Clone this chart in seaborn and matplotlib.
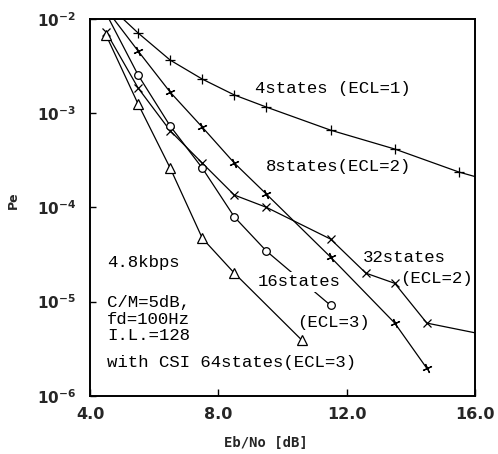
import numpy as np
import pandas as pd
import matplotlib
matplotlib.use('Agg')
import matplotlib.pyplot as plt
import seaborn as sns

# ---------------- data ----------------
ebno_4 = [4.5, 5.5, 6.5, 7.5, 8.5, 9.5, 11.5, 13.5, 15.5, 16.5]
pe_4 = [1.48e-2, 7.1e-3, 3.66e-3, 2.30e-3, 1.56e-3, 1.16e-3, 6.6e-4, 4.16e-4, 2.37e-4, 1.9e-4]

ebno_8 = [4.5, 5.5, 6.5, 7.5, 8.5, 9.5, 11.5, 13.5, 14.5]
pe_8 = [1.28e-2, 4.57e-3, 1.67e-3, 7.1e-4, 2.95e-4, 1.38e-4, 2.96e-5, 5.9e-6, 1.95e-6]

ebno_32 = [4.5, 5.5, 6.5, 7.5, 8.5, 9.5, 11.5, 12.6, 13.5, 14.5, 16.5]
pe_32 = [7.3e-3, 1.85e-3, 6.5e-4, 2.95e-4, 1.35e-4, 1.0e-4, 4.6e-5, 2.0e-5, 1.56e-5, 5.9e-6, 4.3e-6]

ebno_16 = [4.5, 5.5, 6.5, 7.5, 8.5, 9.5, 11.5]
pe_16 = [1.15e-2, 2.54e-3, 7.3e-4, 2.61e-4, 7.9e-5, 3.43e-5, 9.1e-6]

ebno_64 = [4.5, 5.5, 6.5, 7.5, 8.5, 10.6]
pe_64 = [6.76e-3, 1.25e-3, 2.61e-4, 4.7e-5, 2.0e-5, 3.9e-6]

x_ticks = [4.0, 8.0, 12.0, 16.0]
x_tick_labels = ['4.0', '8.0', '12.0', '16.0']
y_ticks = [1e-6, 1e-5, 1e-4, 1e-3, 1e-2]
y_tick_labels = [r'$\mathbf{10^{-6}}$', r'$\mathbf{10^{-5}}$', r'$\mathbf{10^{-4}}$',
                 r'$\mathbf{10^{-3}}$', r'$\mathbf{10^{-2}}$']

x_label = 'Eb/No [dB]'
y_label = 'Pe'

# ---------------- style ----------------
sns.set_style('ticks')
plt.rcParams['font.family'] = ['DejaVu Sans']
plt.rcParams['xtick.direction'] = 'in'
plt.rcParams['ytick.direction'] = 'in'

W, H = 498, 454
fig = plt.figure(figsize=(W / 100, H / 100), dpi=100)
L, R, T, B = 90, 475, 19, 395.7
ax = fig.add_axes([L / W, 1 - B / H, (R - L) / W, (B - T) / H])

series = [
    (ebno_4, pe_4, dict(marker='+', ms=7, mew=0.9)),
    (ebno_8, pe_8, dict(marker=(4, 2, 25), ms=7, mew=0.9)),
    (ebno_32, pe_32, dict(marker='x', ms=5.5, mew=0.9)),
    (ebno_16, pe_16, dict(marker='o', ms=5.5, mew=0.9, mfc='white')),
    (ebno_64, pe_64, dict(marker='^', ms=6.5, mew=0.9, mfc='white')),
]
for xs, ys, mk in series:
    df = pd.DataFrame({'ebno': xs, 'pe': ys})
    sns.lineplot(data=df, x='ebno', y='pe', ax=ax, estimator=None, sort=False,
                 color='black', lw=0.9, mec='black', **mk)

ax.set_yscale('log')
ax.set_xlim(4.0, 16.0)
ax.set_ylim(1e-6, 1e-2)
ax.set_xticks(x_ticks)
ax.set_xticklabels(x_tick_labels, fontsize=11.5, fontweight='bold')
ax.set_yticks(y_ticks)
ax.set_yticklabels(y_tick_labels, fontsize=11)
ax.minorticks_off()
ax.tick_params(axis='x', length=5, width=1.0, pad=8, color='black')
ax.tick_params(axis='y', length=4, width=1.0, pad=10, color='black')
for s in ax.spines.values():
    s.set_linewidth(1.4)
    s.set_color('black')

ax.set_xlabel(x_label, fontsize=10, fontweight='bold', family='DejaVu Sans Mono')
ax.xaxis.set_label_coords((266 - L) / (R - L), (B - 443) / (B - T))
ax.xaxis.label.set_va('center')
ax.set_ylabel(y_label, fontsize=9, fontweight='bold')
ax.yaxis.set_label_coords((13 - L) / (R - L), (B - 200) / (B - T))
ax.yaxis.label.set_va('center')

# ---------------- annotations ----------------
def note(px, py, s, **kw):
    return ax.text((px - L) / (R - L), (B - py) / (B - T), s, transform=ax.transAxes,
                   ha='left', va='center', fontsize=12.5, family='Liberation Mono',
                   color='black', **kw)

note(255, 89, '4states (ECL=1)')
note(266, 167, '8states(ECL=2)')
note(363, 257, '32states')
note(400, 279, '(ECL=2)')
note(258, 282, '16states', bbox=dict(facecolor='white', edgecolor='none', pad=1.5), zorder=5)
note(297, 322, '(ECL=3)')
note(107, 262, '4.8kbps')
note(107, 302, 'C/M=5dB,')
note(107, 319, 'fd=100Hz')
note(107, 336, 'I.L.=128')
note(107, 363, 'with CSI 64states(ECL=3)')

fig.savefig('out.png', dpi=100)
